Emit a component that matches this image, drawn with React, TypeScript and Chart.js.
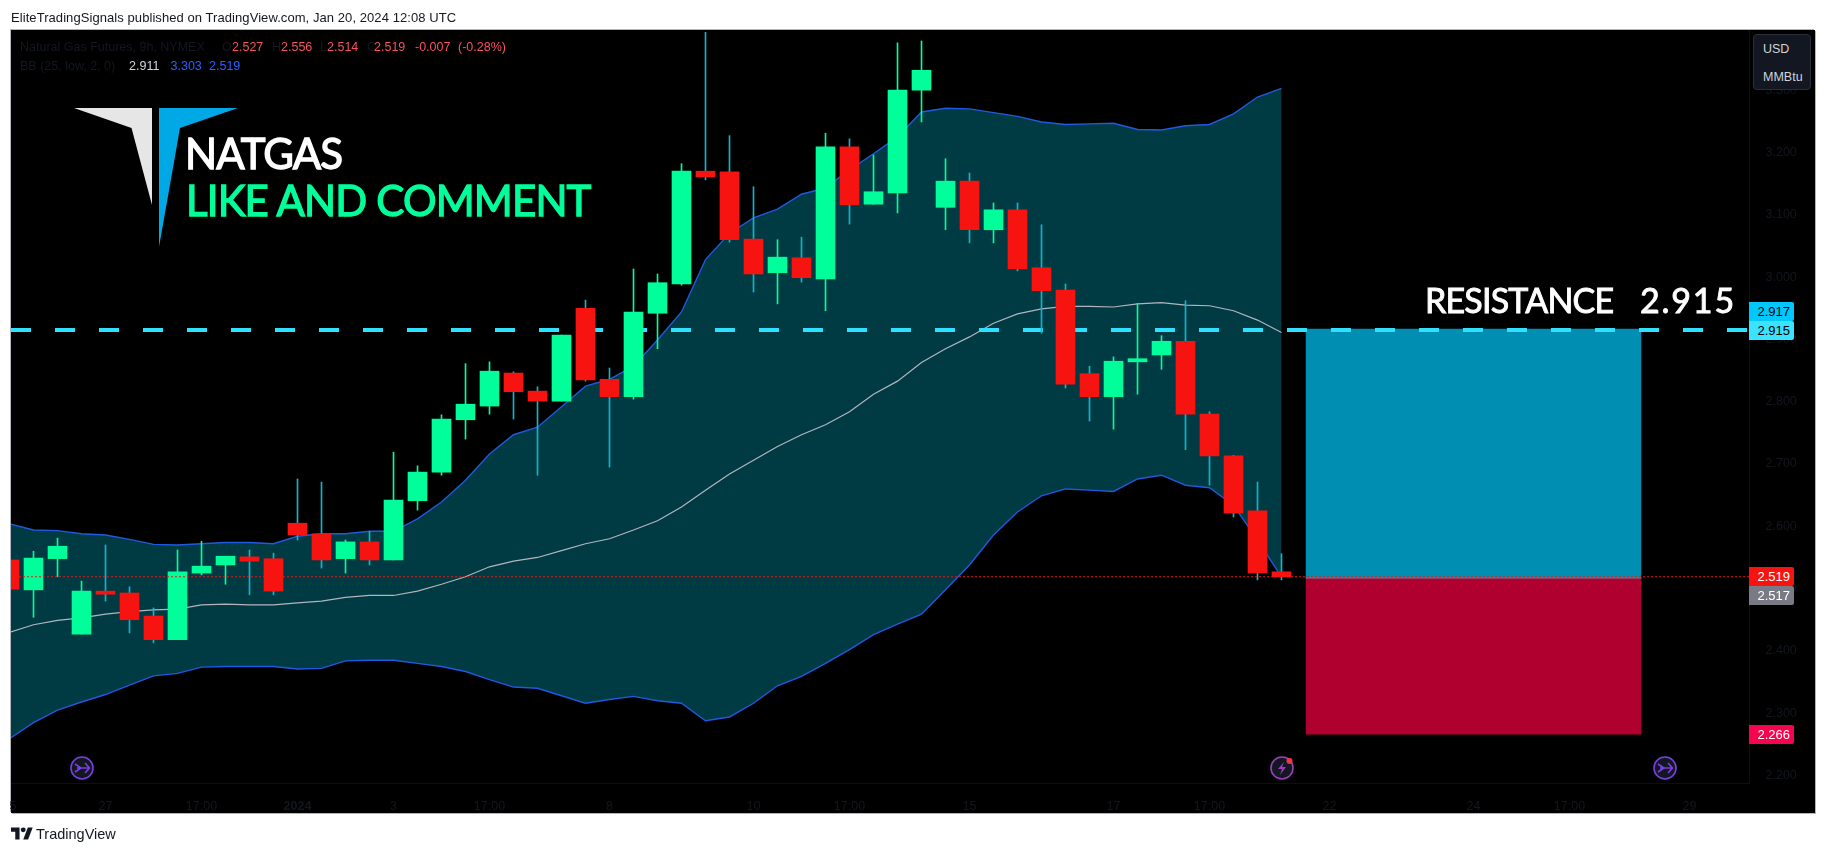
import React, { useEffect, useRef } from 'react';
import { Chart, registerables } from 'chart.js';

Chart.register(...registerables);

// 9h candles, one entry per bar
const opens = [2.546, 2.498, 2.548, 2.427, 2.496, 2.493, 2.456, 2.418, 2.525, 2.538, 2.551, 2.548, 2.605, 2.588, 2.548, 2.575, 2.546, 2.641, 2.687, 2.771, 2.793, 2.846, 2.817, 2.801, 2.95, 2.836, 2.808, 2.942, 2.989, 3.17, 3.169, 3.061, 3.007, 3.031, 2.997, 3.209, 3.117, 3.135, 3.3, 3.112, 3.154, 3.076, 3.108, 3.015, 2.979, 2.845, 2.808, 2.864, 2.875, 2.897, 2.78, 2.713, 2.625, 2.527];
const highs = [2.546, 2.56, 2.581, 2.512, 2.57, 2.503, 2.469, 2.562, 2.576, 2.552, 2.562, 2.557, 2.676, 2.671, 2.578, 2.592, 2.719, 2.697, 2.779, 2.861, 2.864, 2.848, 2.824, 2.907, 2.963, 2.854, 3.013, 3.005, 3.182, 3.393, 3.227, 3.145, 3.06, 3.064, 3.231, 3.222, 3.196, 3.376, 3.379, 3.19, 3.167, 3.119, 3.119, 3.084, 2.989, 2.857, 2.872, 2.958, 2.906, 2.962, 2.784, 2.714, 2.671, 2.556];
const lows = [2.499, 2.454, 2.519, 2.427, 2.48, 2.429, 2.413, 2.418, 2.522, 2.507, 2.49, 2.49, 2.578, 2.533, 2.525, 2.538, 2.546, 2.626, 2.682, 2.74, 2.78, 2.772, 2.682, 2.801, 2.833, 2.695, 2.804, 2.885, 2.987, 3.156, 3.056, 2.976, 2.957, 2.992, 2.946, 3.085, 3.117, 3.103, 3.249, 3.076, 3.055, 3.055, 3.01, 2.91, 2.822, 2.769, 2.756, 2.812, 2.852, 2.723, 2.666, 2.615, 2.514, 2.514];
const closes = [2.499, 2.549, 2.568, 2.496, 2.491, 2.45, 2.418, 2.527, 2.536, 2.552, 2.544, 2.496, 2.586, 2.546, 2.575, 2.546, 2.642, 2.687, 2.772, 2.796, 2.849, 2.816, 2.801, 2.907, 2.835, 2.808, 2.944, 2.991, 3.17, 3.161, 3.06, 3.005, 3.032, 2.999, 3.209, 3.116, 3.137, 3.3, 3.332, 3.154, 3.076, 3.108, 3.013, 2.978, 2.828, 2.808, 2.865, 2.869, 2.897, 2.78, 2.713, 2.621, 2.525, 2.519];

// Bollinger bands (25, low, 2)
const upperBand = [2.604, 2.594, 2.593, 2.588, 2.586, 2.579, 2.571, 2.57, 2.572, 2.574, 2.574, 2.572, 2.584, 2.588, 2.588, 2.592, 2.592, 2.612, 2.639, 2.674, 2.716, 2.747, 2.759, 2.792, 2.825, 2.836, 2.857, 2.899, 2.944, 3.028, 3.07, 3.095, 3.109, 3.133, 3.143, 3.172, 3.198, 3.225, 3.265, 3.271, 3.27, 3.264, 3.258, 3.249, 3.245, 3.246, 3.247, 3.237, 3.236, 3.243, 3.245, 3.262, 3.289, 3.303];
const basisBand = [2.43, 2.442, 2.449, 2.453, 2.459, 2.463, 2.466, 2.467, 2.474, 2.475, 2.474, 2.474, 2.477, 2.48, 2.486, 2.489, 2.489, 2.496, 2.507, 2.519, 2.535, 2.544, 2.55, 2.561, 2.572, 2.58, 2.594, 2.609, 2.631, 2.658, 2.684, 2.706, 2.728, 2.747, 2.763, 2.784, 2.812, 2.833, 2.863, 2.885, 2.904, 2.926, 2.941, 2.949, 2.953, 2.953, 2.952, 2.957, 2.959, 2.955, 2.954, 2.946, 2.931, 2.911];
const lowerBand = [2.259, 2.285, 2.305, 2.318, 2.33, 2.345, 2.36, 2.364, 2.374, 2.375, 2.375, 2.375, 2.371, 2.372, 2.384, 2.385, 2.385, 2.38, 2.375, 2.367, 2.354, 2.342, 2.34, 2.328, 2.316, 2.322, 2.327, 2.32, 2.316, 2.288, 2.294, 2.316, 2.344, 2.359, 2.38, 2.402, 2.426, 2.443, 2.459, 2.498, 2.538, 2.586, 2.623, 2.649, 2.66, 2.658, 2.656, 2.676, 2.682, 2.666, 2.662, 2.634, 2.578, 2.519];

// price and time axis
const priceTicks = [2.2, 2.3, 2.4, 2.5, 2.6, 2.7, 2.8, 2.9, 3.0, 3.1, 3.2, 3.3];
const timeTickBars = [0, 4, 8, 12, 16, 20, 25, 31, 35, 40, 46, 50, 55, 61, 65, 70];
const timeTickLabels = ['25', '27', '17:00', '2024', '3', '17:00', '8', '10', '17:00', '15', '17', '17:00', '22', '24', '17:00', '29'];

// drawing levels
const resistance = 2.915;
const lastClose = 2.519;
const positionTarget = 2.917;
const positionEntry = 2.517;
const positionStop = 2.266;
const positionBars = [54, 68];

// visible range of the two axes
const barMin = 0.0625;
const barMax = 72.479;
const priceMin = 2.188;
const priceMax = 3.3966;

const GREEN = '#00ff9a';
const RED = '#f7130f';
const WICK_RED = '#12b5cf';
const DIM = '#13161f';
const BLUE = '#1f5ae0';
const FONT = '"Liberation Sans", Arial, sans-serif';
const BIG_FONT = 'Lato, sans-serif';

const isUp = (i: number) => closes[i] >= opens[i];
const flat = (value: number, from: number, to: number) => [
  { x: from, y: value },
  { x: to, y: value },
];

const Label: React.FC<any> = ({ x, y, color, size = 12.5, weight, spacing, stroke, font = FONT, children }) => (
  <div
    style={{
      position: 'absolute',
      left: x,
      top: y,
      transform: 'translateY(-50%)',
      color,
      fontSize: size,
      fontWeight: weight,
      letterSpacing: spacing,
      fontFamily: font,
      WebkitTextStroke: stroke ? `${stroke}px ${color}` : undefined,
      whiteSpace: 'nowrap',
      lineHeight: 1,
    }}
  >
    {children}
  </div>
);

const Badge: React.FC<any> = ({ top, height = 19, bg, color, children }) => (
  <div
    style={{
      position: 'absolute',
      left: 1749,
      top,
      width: 44.5,
      height,
      background: bg,
      color,
      fontFamily: FONT,
      fontSize: 13,
      lineHeight: `${height}px`,
      paddingLeft: 8.5,
      boxSizing: 'border-box',
      borderRadius: '0 2px 2px 0',
    }}
  >
    {children}
  </div>
);

const RoundIcon: React.FC<any> = ({ cx, color, children }) => (
  <svg style={{ position: 'absolute', left: cx - 13, top: 755 }} width={26} height={26} viewBox="0 0 26 26">
    <circle cx={13} cy={13} r={11} fill="#131722" stroke={color} strokeWidth={1.6} />
    {children}
  </svg>
);

const ArrowGlyph = () => (
  <path d="M6 9 L12 13 L6 17 M8 13 H20 M16 8 L20.5 13 L16 18" fill="none" stroke="#7a3fe4" strokeWidth={1.6} />
);

export default function App() {
  const canvasRef = useRef<HTMLCanvasElement>(null);

  useEffect(() => {
    if (!canvasRef.current) return;

    const chart = new Chart(canvasRef.current, {
      type: 'bar',
      data: {
        datasets: [
          {
            type: 'line',
            data: upperBand.map((y, x) => ({ x, y })),
            borderColor: BLUE,
            borderWidth: 1.4,
            pointRadius: 0,
            fill: { target: 1 },
            backgroundColor: '#003a42',
            order: 20,
          },
          {
            type: 'line',
            data: lowerBand.map((y, x) => ({ x, y })),
            borderColor: BLUE,
            borderWidth: 1.4,
            pointRadius: 0,
            order: 19,
          },
          {
            type: 'line',
            data: basisBand.map((y, x) => ({ x, y })),
            borderColor: '#b2b5be',
            borderWidth: 1.2,
            pointRadius: 0,
            order: 18,
          },
          // long position tool: profit zone, then stop zone
          {
            type: 'line',
            data: flat(positionTarget, positionBars[0], positionBars[1]),
            borderWidth: 0,
            pointRadius: 0,
            fill: { target: 4 },
            backgroundColor: '#008fb3',
            order: 17,
          },
          {
            type: 'line',
            data: flat(positionEntry, positionBars[0], positionBars[1]),
            borderColor: '#787b86',
            borderWidth: 1,
            pointRadius: 0,
            fill: { target: 5 },
            backgroundColor: '#b0002f',
            order: 16,
          },
          {
            type: 'line',
            data: flat(positionStop, positionBars[0], positionBars[1]),
            borderWidth: 0,
            pointRadius: 0,
            order: 15,
          },
          // resistance level
          {
            type: 'line',
            data: flat(resistance, barMin, barMax),
            borderColor: '#2fe0ff',
            borderWidth: 4,
            borderDash: [20, 24],
            pointRadius: 0,
            order: 14,
          },
          // wicks
          {
            data: highs.map((h, i) => ({ x: i, y: [lows[i], h] })),
            backgroundColor: opens.map((_, i) => (isUp(i) ? GREEN : WICK_RED)),
            barThickness: 1,
            grouped: false,
            order: 5,
          },
          // bodies
          {
            data: opens.map((o, i) => ({ x: i, y: [o, closes[i]] })),
            backgroundColor: opens.map((_, i) => (isUp(i) ? GREEN : RED)),
            barThickness: 19,
            grouped: false,
            order: 4,
          },
          // last price
          {
            type: 'line',
            data: flat(lastClose, barMin, barMax),
            borderColor: RED,
            borderWidth: 1,
            borderDash: [2, 2],
            pointRadius: 0,
            order: 1,
          },
        ] as any,
      },
      options: {
        animation: false,
        responsive: false,
        devicePixelRatio: 1,
        layout: { padding: { left: 11, right: 11, top: 30, bottom: 40 } },
        plugins: {
          legend: { display: false },
          tooltip: { enabled: false },
        },
        scales: {
          x: {
            type: 'linear',
            min: barMin,
            max: barMax,
            offset: false,
            grid: { display: false },
            border: { color: '#0d0f14' },
            afterFit: (scale: any) => {
              scale.height = 30;
              // the first label hangs off the left edge, it must not push the pane
              scale.paddingLeft = 0;
              scale.paddingRight = 0;
            },
            afterBuildTicks: (scale: any) => {
              scale.ticks = timeTickBars.map((value) => ({ value }));
            },
            ticks: {
              autoSkip: false,
              maxRotation: 0,
              padding: 8,
              color: DIM,
              font: (ctx: any) => ({
                family: FONT,
                size: 12.5,
                weight: ctx.tick && ctx.tick.value === 12 ? 'bold' : 'normal',
              }),
              callback: (value: any) => timeTickLabels[timeTickBars.indexOf(Number(value))],
            },
          },
          y: {
            position: 'right',
            min: priceMin,
            max: priceMax,
            grid: { display: false },
            border: { color: '#0d0f14' },
            afterFit: (scale: any) => {
              scale.width = 66;
              scale.paddingTop = 0;
              scale.paddingBottom = 0;
            },
            afterBuildTicks: (scale: any) => {
              scale.ticks = priceTicks.map((value) => ({ value }));
            },
            ticks: {
              padding: 8.5,
              color: DIM,
              font: { family: FONT, size: 12.5 },
              callback: (value: any) => Number(value).toFixed(3),
            },
          },
        },
      } as any,
    });

    return () => {
      chart.destroy();
    };
  }, []);

  return (
    <div style={{ position: 'fixed', left: 0, top: 0, width: 1826, height: 853, background: '#fff', overflow: 'hidden' }}>
      <div
        style={{
          position: 'absolute',
          left: 11,
          top: 30,
          width: 1804,
          height: 783,
          background: '#000',
          boxShadow: '-1px -1px 0 #b2b5be, 1px 1px 0 #b2b5be',
        }}
      />
      <canvas ref={canvasRef} width={1826} height={853} style={{ position: 'absolute', left: 0, top: 0 }} />
      <div style={{ position: 'absolute', left: 0, top: 784, width: 10, height: 29, background: '#fff' }} />

      <Label x={11} y={16.5} color="#131722" size={13} spacing={0.07}>
        EliteTradingSignals published on TradingView.com, Jan 20, 2024 12:08 UTC
      </Label>

      <Label x={20} y={46.5} color="#131722">Natural Gas Futures, 9h, NYMEX</Label>
      <Label x={222} y={46.5} color="#131722">O</Label>
      <Label x={232} y={46.5} color="#f7525f">2.527</Label>
      <Label x={272} y={46.5} color="#131722">H</Label>
      <Label x={281} y={46.5} color="#f7525f">2.556</Label>
      <Label x={320} y={46.5} color="#131722">L</Label>
      <Label x={327} y={46.5} color="#f7525f">2.514</Label>
      <Label x={367} y={46.5} color="#131722">C</Label>
      <Label x={374} y={46.5} color="#f7525f">2.519</Label>
      <Label x={415} y={46.5} color="#f7525f">-0.007</Label>
      <Label x={458} y={46.5} color="#f7525f">(-0.28%)</Label>
      <Label x={20} y={65.5} color="#131722">BB (25, low, 2, 0)</Label>
      <Label x={129} y={65.5} color="#d1d4dc">2.911</Label>
      <Label x={170.5} y={65.5} color="#2962ff">3.303</Label>
      <Label x={209} y={65.5} color="#2962ff">2.519</Label>

      <svg style={{ position: 'absolute', left: 0, top: 0 }} width={300} height={260}>
        <polygon points="74,108 152,108 152,205 131.5,128" fill="#e6e6e6" />
        <polygon points="159,108 238,108 180,128 159,247" fill="#00a8e6" />
      </svg>
      <Label x={185} y={153} color="#fff" size={42} stroke={1.3} spacing={-0.9} font={BIG_FONT}>NATGAS</Label>
      <Label x={186} y={199.5} color={GREEN} size={42} stroke={1.3} spacing={-0.85} font={BIG_FONT}>LIKE AND COMMENT</Label>
      <Label x={1425} y={299.5} color="#fff" size={34} stroke={0.9} spacing={-0.8} font={BIG_FONT}>RESISTANCE</Label>
      <Label x={1640} y={299.5} color="#fff" size={34} stroke={0.9} spacing={1.8} font={BIG_FONT}>2.915</Label>

      <div
        style={{
          position: 'absolute',
          left: 1752.5,
          top: 33.5,
          width: 58.5,
          height: 56.5,
          background: '#131722',
          border: '1px solid #2a2e39',
          borderRadius: 4,
          boxSizing: 'border-box',
        }}
      />
      <Label x={1763} y={48.5} color="#d1d4dc">USD</Label>
      <Label x={1763} y={76.5} color="#d1d4dc">MMBtu</Label>

      <Badge top={302} bg="#00c8ff" color="#000">2.917</Badge>
      <Badge top={321} bg="#3be3ff" color="#000">2.915</Badge>
      <Badge top={567} bg={RED} color="#fff">2.519</Badge>
      <Badge top={586} bg="#787b86" color="#fff">2.517</Badge>
      <Badge top={725} bg="#f7044f" color="#fff">2.266</Badge>

      <RoundIcon cx={81.5} color="#7a3fe4"><ArrowGlyph /></RoundIcon>
      <RoundIcon cx={1665} color="#7a3fe4"><ArrowGlyph /></RoundIcon>
      <RoundIcon cx={1281.5} color="#9c3fb8">
        <path d="M15 7 L9 14 H13 L11 20 L17 12 H13 Z" fill="#9c3fb8" />
        <circle cx={20.5} cy={6} r={3} fill="#f23645" />
      </RoundIcon>

      <svg style={{ position: 'absolute', left: 11, top: 827 }} width={22} height={13} viewBox="0 0 36 20">
        <path d="M14 20H7V7H0V0h14v20zM28 20h-8L27.5 0h8L28 20z" fill="#131722" />
        <circle cx={20} cy={4} r={4} fill="#131722" />
      </svg>
      <Label x={36} y={834} color="#131722" size={14.5}>TradingView</Label>
    </div>
  );
}
